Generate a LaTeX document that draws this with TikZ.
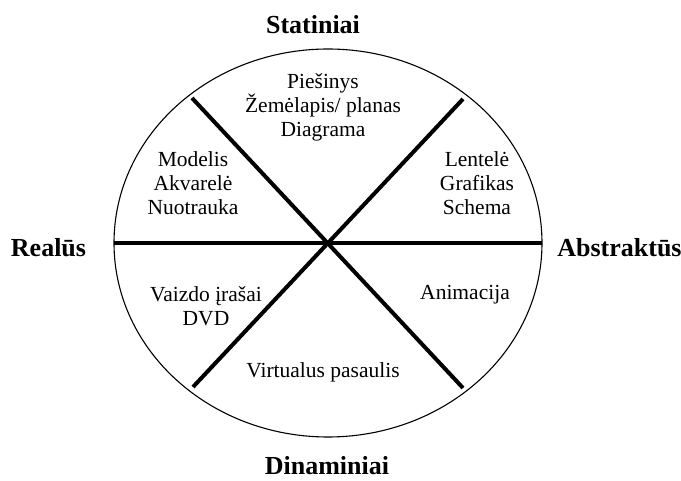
\documentclass[tikz,border=0pt]{standalone}
\usepackage{fontspec}
\setmainfont{Liberation Serif}
\begin{document}
\begin{tikzpicture}[x=1pt,y=-1pt]
\tikzstyle{every node}+=[inner sep=0pt]
\tikzstyle{axislabel}=[font=\fontsize{26}{28}\selectfont\bfseries, anchor=base]
\tikzstyle{sectortext}=[font=\fontsize{21.5}{24}\selectfont, align=center]
\tikzstyle{divider}=[black, line width=4pt]
\useasboundingbox (0,0) rectangle (681,481);
\coordinate (c) at (328,243);
\coordinate (w) at (114,243);
\coordinate (e) at (542,243);
\coordinate (nw) at (192,98);
\coordinate (se) at (463,388);
\coordinate (ne) at (463,99);
\coordinate (sw) at (193,387);
\draw [black, line width=1.1pt] (c) ellipse [x radius=214pt, y radius=194pt];
\draw [divider] (w) -- (e);
\draw [divider] (nw) -- (se);
\draw [divider] (ne) -- (sw);
\node [axislabel] (static) at (313,34) {Statiniai};
\node [axislabel] (dynamic) at (327,474.5) {Dinaminiai};
\node [axislabel] (real) at (48.5,257) {Realūs};
\node [axislabel] (abstract) at (619.5,257) {Abstraktūs};
\node [sectortext] (top) at (323,107) {Piešinys\\Žemėlapis/ planas\\Diagrama};
\node [sectortext] (upleft) at (193,183) {Modelis\\Akvarelė\\Nuotrauka};
\node [sectortext] (upright) at (477,183) {Lentelė\\Grafikas\\Schema};
\node [sectortext] (lowleft) at (206,306) {Vaizdo įrašai\\DVD};
\node [sectortext] (lowright) at (465,295) {Animacija};
\node [sectortext] (bottom) at (323,372) {Virtualus pasaulis};
\end{tikzpicture}
\end{document}
